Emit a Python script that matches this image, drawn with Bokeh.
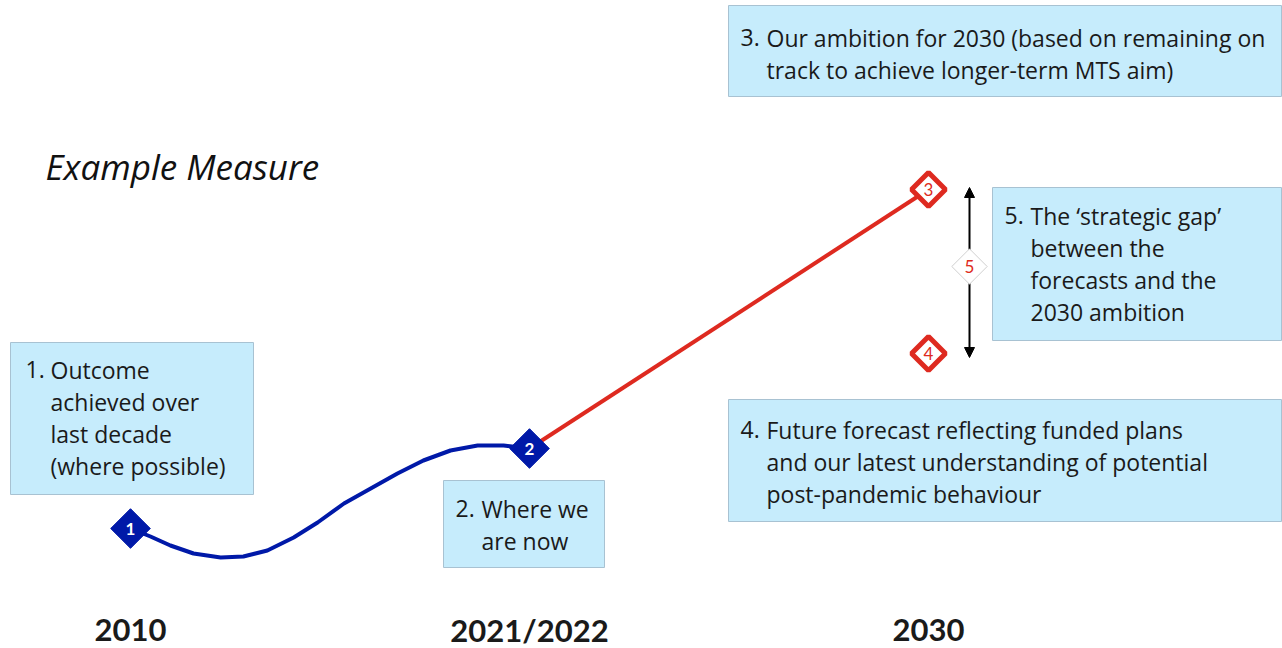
from bokeh.plotting import figure
from bokeh.models import Range1d, Arrow, NormalHead
from bokeh.core.properties import value
from bokeh.embed import file_html
from bokeh.resources import INLINE
import numpy as np

# ---- data -------------------------------------------------------------
periods = ["2010", "2021/2022", "2030"]          # x positions 0, 1, 2

# outcome achieved over last decade (period index, measure value)
hist_x = [0.0, 0.050, 0.100, 0.158, 0.226, 0.283, 0.343, 0.409, 0.469,
          0.535, 0.602, 0.669, 0.734, 0.802, 0.870, 0.935, 1.0]
hist_y = [7.8, 7.0, 6.1, 5.3, 4.9, 5.0, 5.6, 6.9, 8.4,
          10.3, 11.8, 13.3, 14.6, 15.6, 16.1, 16.1, 15.8]

current_value = 15.8     # 2: where we are now
ambition_value = 41.7    # 3: ambition for 2030
forecast_value = 25.3    # 4: future forecast

# ---- layout helpers (screen pixels -> data units) ----------------------
W, H = 1282, 648
BASE_PX = 606            # screen row of measure value 0
X0_PX, STEP_PX = 130, 399


def dx(px):
    return (px - X0_PX) / STEP_PX


def dy(py):
    return (BASE_PX - py) / 10.0


FONT = value("Open Sans")
INK = "#1a1a1a"
BLUE = "#0019A8"
RED = "#DE2A20"
BOX_FILL = "#C6ECFC"
BOX_LINE = "#A8C2D2"

p = figure(width=W, height=H,
           x_range=Range1d(dx(0), dx(W)), y_range=Range1d(dy(H), dy(0)),
           output_backend="svg", toolbar_location=None,
           x_axis_location=None, y_axis_location=None,
           min_border_left=0, min_border_right=0, min_border_top=0,
           min_border_bottom=0)
p.xgrid.visible = False
p.ygrid.visible = False
p.outline_line_color = None
p.background_fill_color = "white"
p.border_fill_color = "white"

# period labels under each milestone
p.text(x=list(range(len(periods))), y=[dy(629)] * len(periods), text=periods,
       text_font=value("Lato"), text_font_size="31px", text_font_style="bold",
       text_align="center", text_baseline="middle", text_color=INK)

# ---- annotation boxes ---------------------------------------------------
boxes = [  # left, right, top, bottom in screen px
    (10, 253, 342, 494),
    (443, 604, 480, 567),
    (728, 1281, 5, 96),
    (728, 1281, 399, 521),
    (992, 1281, 187, 340),
]
p.quad(left=[dx(b[0]) for b in boxes], right=[dx(b[1]) for b in boxes],
       top=[dy(b[2]) for b in boxes], bottom=[dy(b[3]) for b in boxes],
       fill_color=BOX_FILL, line_color=BOX_LINE, line_width=1)

notes = [
    # (number x, text x, first line y, [lines])
    (25, 50, 369, ["1.", "Outcome", "achieved over", "last decade", "(where possible)"]),
    (455, 481, 508, ["2.", "Where we", "are now"]),
    (740, 766, 37, ["3.", "Our ambition for 2030 (based on remaining on",
                    "track to achieve longer-term MTS aim)"]),
    (740, 766, 429, ["4.", "Future forecast reflecting funded plans",
                     "and our latest understanding of potential",
                     "post-pandemic behaviour"]),
    (1004, 1030, 215, ["5.", "The \u2018strategic gap\u2019", "between the",
                       "forecasts and the", "2030 ambition"]),
]
LINE_H = 32.3
for nx, tx, y0, lines in notes:
    xs = [dx(nx)] + [dx(tx)] * (len(lines) - 1)
    ys = [dy(y0)] + [dy(y0 + i * LINE_H) for i in range(len(lines) - 1)]
    p.text(x=xs, y=ys, text=lines, text_font=FONT, text_font_size="23px",
           text_baseline="middle", text_align="left", text_color=INK)

# title
p.text(x=[dx(45)], y=[dy(166)], text=["Example Measure"], text_font=FONT,
       text_font_size="35px", text_font_style="italic", text_baseline="middle",
       text_color="#111111")

# ---- strategic gap arrow -----------------------------------------------
gap_x = dx(969)
gap = Arrow(x_start=gap_x, y_start=ambition_value + 0.2,
            x_end=gap_x, y_end=forecast_value - 0.4,
            line_color="black", line_width=2, level="underlay",
            start=NormalHead(size=10, fill_color="black", line_color="black"),
            end=NormalHead(size=10, fill_color="black", line_color="black"))
p.add_layout(gap)

# ---- lines ---------------------------------------------------------------
p.line(hist_x, hist_y, line_color=BLUE, line_width=4, line_cap="round",
       line_join="round")
p.line([1, 2], [current_value, ambition_value], line_color=RED, line_width=4)

# ---- diamond markers -------------------------------------------------------
ang = np.pi / 4
p.scatter([hist_x[0], 1], [hist_y[0], current_value], marker="square", size=28,
          angle=ang, fill_color=BLUE, line_color=BLUE)
p.scatter([2, 2], [ambition_value, forecast_value], marker="square", size=24,
          angle=ang, fill_color="white", line_color=RED, line_width=5)
gap_y = dy(266)
p.scatter([gap_x], [gap_y], marker="square", size=25, angle=ang,
          fill_color="white", line_color="#D0D0D0", line_width=1)

p.text(x=[hist_x[0], 1], y=[hist_y[0], current_value], text=["1", "2"],
       text_font=value("Lato"), text_font_size="17px", text_font_style="bold",
       text_align="center", text_baseline="middle", text_color="white")
p.text(x=[2, 2, gap_x], y=[ambition_value, forecast_value, gap_y], text=["3", "4", "5"],
       text_font=value("Lato"), text_font_size="17px",
       text_align="center", text_baseline="middle", text_color=RED)

open("out.html", "w").write(file_html(p, INLINE))
